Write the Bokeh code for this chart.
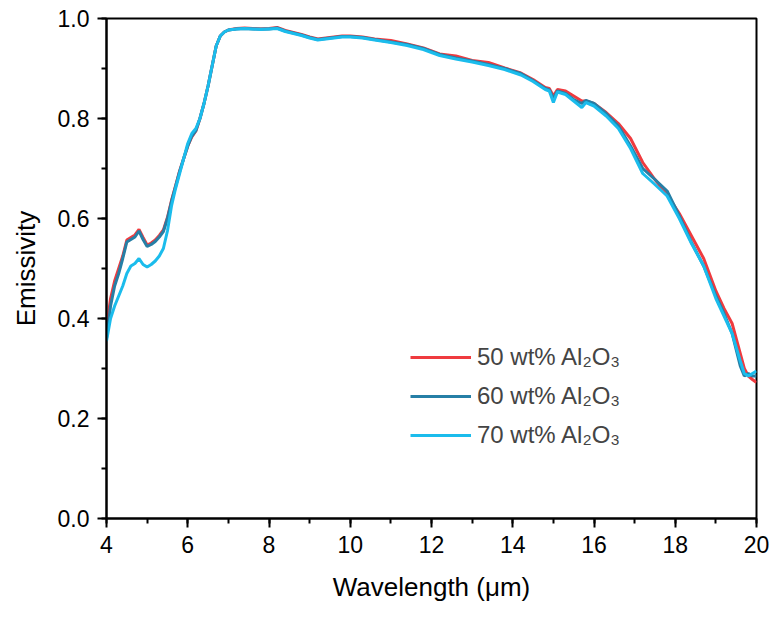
from bokeh.plotting import figure
from bokeh.models import Legend, LegendItem, SingleIntervalTicker, Range1d
from bokeh.embed import file_html
from bokeh.resources import INLINE

# Wavelength (um), shared by all three spectra
wavelength = [
    4.0, 4.1, 4.2, 4.3, 4.4, 4.5, 4.6, 4.7, 4.8, 4.9,
    5.0, 5.1, 5.2, 5.3, 5.4, 5.5, 5.6, 5.7, 5.8, 5.9,
    6.0, 6.1, 6.2, 6.3, 6.4, 6.5, 6.6, 6.7, 6.8, 6.9,
    7.0, 7.2, 7.4, 7.6, 7.8, 8.0, 8.2, 8.4, 8.6, 8.8,
    9.0, 9.2, 9.4, 9.6, 9.8, 10.0,
    10.3, 10.6, 11.0, 11.4, 11.8, 12.2, 12.6, 13.0, 13.4, 13.8,
    14.2, 14.5, 14.8,
    14.9, 15.0, 15.1, 15.3, 15.5, 15.7, 15.8, 16.0, 16.3, 16.6,
    16.9, 17.2, 17.5, 17.8, 18.1, 18.4, 18.7, 19.0, 19.2, 19.4,
    19.6, 19.7, 19.8, 19.9, 20.0,
]

emis_50 = [
    0.38, 0.44, 0.475, 0.50, 0.525, 0.557, 0.562, 0.567, 0.578, 0.562,
    0.547, 0.551, 0.557, 0.566, 0.577, 0.602, 0.636, 0.665, 0.695, 0.72,
    0.745, 0.763, 0.775, 0.80, 0.83, 0.865, 0.905, 0.945, 0.965, 0.973,
    0.977, 0.980, 0.981, 0.980, 0.979, 0.980, 0.982, 0.976, 0.972, 0.968,
    0.963, 0.959, 0.961, 0.963, 0.965, 0.965,
    0.963, 0.959, 0.956, 0.949, 0.941, 0.929, 0.925, 0.916, 0.912, 0.901,
    0.891, 0.878, 0.862,
    0.860, 0.845, 0.858, 0.855, 0.845, 0.835, 0.835, 0.830, 0.812, 0.790,
    0.760, 0.712, 0.678, 0.648, 0.610, 0.565, 0.520, 0.455, 0.420, 0.390,
    0.330, 0.300, 0.285, 0.278, 0.272,
]

emis_60 = [
    0.36, 0.425, 0.465, 0.49, 0.52, 0.553, 0.558, 0.563, 0.575, 0.558,
    0.544, 0.548, 0.554, 0.563, 0.574, 0.60, 0.634, 0.664, 0.694, 0.72,
    0.745, 0.765, 0.776, 0.80, 0.83, 0.865, 0.905, 0.945, 0.965, 0.973,
    0.977, 0.979, 0.980, 0.979, 0.979, 0.979, 0.981, 0.975, 0.971, 0.967,
    0.962, 0.958, 0.960, 0.962, 0.964, 0.964,
    0.962, 0.958, 0.953, 0.948, 0.940, 0.928, 0.921, 0.915, 0.908, 0.900,
    0.890, 0.876, 0.860,
    0.857, 0.840, 0.855, 0.850, 0.838, 0.830, 0.836, 0.830, 0.810, 0.785,
    0.745, 0.700, 0.678, 0.655, 0.605, 0.552, 0.505, 0.445, 0.410, 0.370,
    0.305, 0.285, 0.290, 0.285, 0.285,
]

emis_70 = [
    0.355, 0.40, 0.425, 0.445, 0.465, 0.49, 0.505, 0.51, 0.52, 0.508,
    0.503, 0.508, 0.515, 0.525, 0.54, 0.575, 0.625, 0.66, 0.69, 0.72,
    0.75, 0.77, 0.78, 0.80, 0.83, 0.865, 0.905, 0.945, 0.965, 0.973,
    0.977, 0.979, 0.980, 0.979, 0.978, 0.979, 0.980, 0.974, 0.970, 0.966,
    0.961, 0.957, 0.959, 0.961, 0.963, 0.963,
    0.961, 0.957, 0.952, 0.946, 0.938, 0.926, 0.919, 0.913, 0.906, 0.898,
    0.887, 0.874, 0.858,
    0.855, 0.832, 0.853, 0.848, 0.835, 0.822, 0.832, 0.825, 0.805, 0.780,
    0.740, 0.690, 0.668, 0.645, 0.600, 0.550, 0.505, 0.440, 0.405, 0.370,
    0.315, 0.290, 0.285, 0.290, 0.295,
]

labels = ["50 wt% Al\u2082O\u2083", "60 wt% Al\u2082O\u2083", "70 wt% Al\u2082O\u2083"]
colors = ["#EF3B3F", "#267FA6", "#1BBCEC"]
x_ticks = [4, 6, 8, 10, 12, 14, 16, 18, 20]
y_ticks = [0.0, 0.2, 0.4, 0.6, 0.8, 1.0]

FONT = "Liberation Sans"

p = figure(width=774, height=619, output_backend="svg", toolbar_location=None,
           x_range=Range1d(4, 20), y_range=Range1d(0, 1),
           min_border_left=106, min_border_right=18,
           min_border_top=18, min_border_bottom=101)
p.grid.visible = False
p.outline_line_color = "black"
p.outline_line_width = 2
p.background_fill_color = "white"
p.border_fill_color = "white"

renderers = []
for ys, c in zip([emis_50, emis_60, emis_70], colors):
    r = p.line(wavelength, ys, line_color=c, line_width=3)
    renderers.append(r)

p.xaxis.ticker = SingleIntervalTicker(interval=2, num_minor_ticks=2)
p.yaxis.ticker = SingleIntervalTicker(interval=0.2, num_minor_ticks=2)
p.yaxis.formatter.__class__  # keep default
from bokeh.models import CustomJSTickFormatter
p.yaxis.formatter = CustomJSTickFormatter(code="return tick.toFixed(1);")

for ax in (p.xaxis, p.yaxis):
    ax.axis_line_width = 2
    ax.axis_line_color = "black"
    ax.major_tick_line_width = 2
    ax.minor_tick_line_width = 2
    ax.major_tick_out = 9
    ax.major_tick_in = 0
    ax.minor_tick_out = 5
    ax.minor_tick_in = 0
    ax.major_label_text_font = FONT
    ax.major_label_text_font_size = "23px"
    ax.major_label_text_color = "black"
    ax.axis_label_text_font = FONT
    ax.axis_label_text_font_size = "26px"
    ax.axis_label_text_font_style = "normal"
    ax.axis_label_text_color = "black"

p.xaxis.axis_label = "Wavelength (\u03bcm)"
p.yaxis.axis_label = "Emissivity"
p.xaxis.major_label_standoff = 8
p.yaxis.major_label_standoff = 8
p.xaxis.axis_label_standoff = 16
p.yaxis.axis_label_standoff = 14

legend = Legend(
    items=[LegendItem(label=l, renderers=[r]) for l, r in zip(labels, renderers)],
    location=(304, 68),
    padding=0, margin=0, spacing=9,
    glyph_width=61, glyph_height=30, label_height=30,
    label_standoff=6,
    label_text_font=FONT, label_text_font_size="24px",
    border_line_color=None, background_fill_alpha=0,
)
p.add_layout(legend)

open("out.html", "w").write(file_html(p, INLINE))
